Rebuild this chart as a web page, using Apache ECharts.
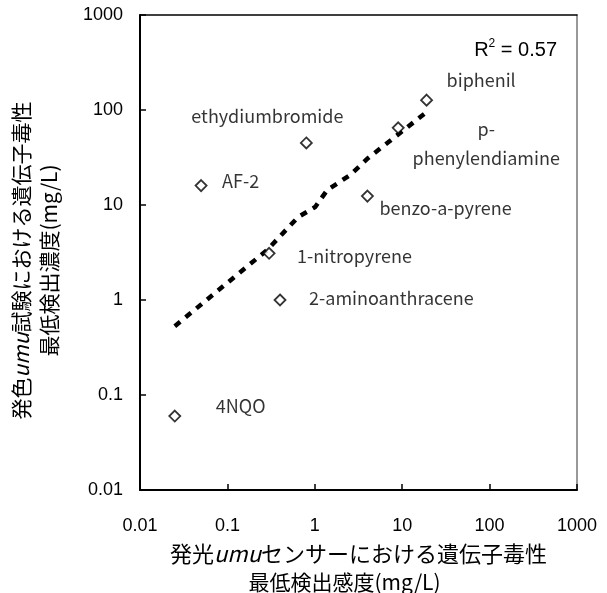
<!DOCTYPE html>
<html>
<head>
<meta charset="utf-8">
<script src="https://cdn.jsdelivr.net/npm/echarts@6/dist/echarts.min.js"></script>
<style>
  html, body { margin: 0; padding: 0; background: #fff; }
  #chart { width: 607px; height: 593px; }
</style>
</head>
<body>
<div id="chart"></div>
<script>
// Compounds: luminescent umu sensor (x) vs colorimetric umu test (y), both in mg/L
const compounds = ['4NQO', 'AF-2', 'ethydiumbromide', '1-nitropyrene', '2-aminoanthracene',
                   'benzo-a-pyrene', 'p-\nphenylendiamine', 'biphenil'];
const sensorValues = [0.025, 0.05, 0.8, 0.3, 0.4, 4, 9, 19];
const testValues   = [0.06, 16, 45, 3.1, 1, 12.4, 65, 127];

// Trend line vertices
const trendX = [0.025, 0.285, 0.646, 1.01, 1.39, 2.54, 4.09, 19];
const trendY = [0.53, 3.36, 7.48, 9.52, 14.4, 20.7, 31.3, 95];

const axisTicks = [0.01, 0.1, 1, 10, 100, 1000];
const rSquared = '0.57';

const CJK = '"Noto Sans CJK JP", "Noto Sans", sans-serif';
const LATIN = '"Liberation Sans", Arial, sans-serif';

// Label placement for each compound: [dx, dy] from the marker centre, and alignment
const labelLayout = {
  '4NQO':              { offset: [41, -10], align: 'left' },
  'AF-2':              { offset: [21, -4], align: 'left' },
  'ethydiumbromide':   { offset: [-115, -27], align: 'left' },
  '1-nitropyrene':     { offset: [28, 3], align: 'left' },
  '2-aminoanthracene': { offset: [29, -2], align: 'left' },
  'benzo-a-pyrene':    { offset: [12, 12], align: 'left' },
  'p-\nphenylendiamine': { offset: [88, 16], align: 'center' },
  'biphenil':          { offset: [20, -20], align: 'left' }
};

const points = compounds.map((name, i) => ({
  name: name,
  value: [sensorValues[i], testValues[i]],
  label: {
    show: true,
    position: 'inside',
    formatter: name,
    offset: labelLayout[name].offset,
    align: labelLayout[name].align,
    verticalAlign: 'middle',
    color: '#000',
    fontFamily: CJK,
    fontSize: 18,
    lineHeight: 29
  }
}));

const trend = trendX.map((x, i) => [x, trendY[i]]);

const logAxisBase = {
  type: 'log',
  logBase: 10,
  min: axisTicks[0],
  max: axisTicks[axisTicks.length - 1],
  splitLine: { show: false }
};

const chart = echarts.init(document.getElementById('chart'), null, { renderer: 'canvas' });
chart.setOption({
  animation: false,
  backgroundColor: '#fff',
  grid: { left: 140, right: 30, top: 15, bottom: 103, containLabel: false, outerBoundsMode: 'none' },
  title: {
    text: '{r|R}{s|2}{r| = ' + rSquared + '}',
    right: 45,
    top: 33,
    textStyle: {
      fontWeight: 'normal',
      rich: {
        r: { fontFamily: LATIN, fontSize: 20, fontWeight: 'normal', color: '#000', lineHeight: 24 },
        s: { fontFamily: LATIN, fontSize: 12, fontWeight: 'normal', color: '#000', verticalAlign: 'top', lineHeight: 24 }
      }
    }
  },
  xAxis: [
    Object.assign({}, logAxisBase, {
      position: 'bottom',
      axisLine: { show: true, lineStyle: { color: '#000', width: 2 } },
      axisTick: { show: true, inside: true, length: 6, lineStyle: { color: '#000', width: 1.5 } },
      axisLabel: { margin: 27, color: '#000', fontFamily: LATIN, fontSize: 18,
                   formatter: v => String(v) },
      name: '{a|発光}{i|umu}{a|センサーにおける遺伝子毒性}\n{b|最低検出感度(mg/L)}',
      nameLocation: 'middle',
      nameGap: 38,
      nameTextStyle: {
        color: '#000',
        lineHeight: 28,
        rich: {
          a: { fontFamily: CJK, fontSize: 22, color: '#000', lineHeight: 28 },
          i: { fontFamily: CJK, fontSize: 22, fontStyle: 'italic', color: '#000', lineHeight: 28 },
          b: { fontFamily: CJK, fontSize: 21, color: '#000', lineHeight: 28, padding: [0, 28, 0, 0] }
        }
      }
    }),
    Object.assign({}, logAxisBase, {
      position: 'top',
      axisLine: { show: true, lineStyle: { color: '#000', width: 1.5 } },
      axisTick: { show: false },
      axisLabel: { show: false }
    })
  ],
  yAxis: [
    Object.assign({}, logAxisBase, {
      position: 'left',
      axisLine: { show: true, lineStyle: { color: '#000', width: 2 } },
      axisTick: { show: true, inside: true, length: 6, lineStyle: { color: '#000', width: 1.5 } },
      axisLabel: { margin: 17, color: '#000', fontFamily: LATIN, fontSize: 18,
                   formatter: v => String(v) },
      name: '{a|発色}{i|umu}{a|試験における遺伝子毒性}\n{a|最低検出濃度(mg/L)}',
      nameLocation: 'middle',
      nameRotate: 90,
      nameGap: 77,
      nameTextStyle: {
        color: '#000',
        lineHeight: 28,
        padding: [0, 16, 0, 0],
        rich: {
          a: { fontFamily: CJK, fontSize: 21, color: '#000', lineHeight: 28 },
          i: { fontFamily: CJK, fontSize: 21, fontStyle: 'italic', color: '#000', lineHeight: 28 }
        }
      }
    }),
    Object.assign({}, logAxisBase, {
      position: 'right',
      axisLine: { show: true, lineStyle: { color: '#777', width: 1.5 } },
      axisTick: { show: false },
      axisLabel: { show: false }
    })
  ],
  series: [
    {
      type: 'line',
      data: trend,
      xAxisIndex: 0,
      yAxisIndex: 0,
      showSymbol: false,
      symbol: 'none',
      smooth: false,
      lineStyle: { color: '#000', width: 4.5, type: [7, 7], cap: 'butt' },
      z: 2
    },
    {
      type: 'scatter',
      data: points,
      xAxisIndex: 0,
      yAxisIndex: 0,
      symbol: 'diamond',
      symbolSize: 11,
      itemStyle: { color: '#fff', borderColor: '#000', borderWidth: 1.8 },
      z: 3
    }
  ]
});
</script>
</body>
</html>
